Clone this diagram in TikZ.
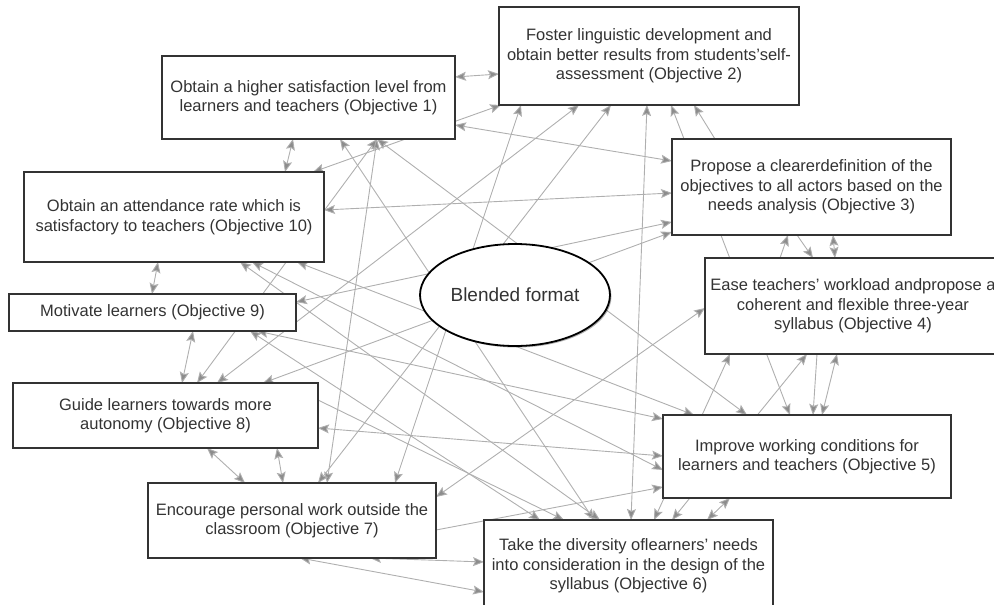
\documentclass[tikz,border=0pt]{standalone}
\usepackage{fontspec}
\setmainfont{Liberation Sans}
\usetikzlibrary{arrows.meta,backgrounds,shadows,shapes.geometric}
\definecolor{boxtext}{RGB}{51,51,51}
\definecolor{linkgray}{RGB}{175,175,175}
\tikzset{
    objbox/.style={
        draw=boxtext, line width=1.2pt, fill=white, text=boxtext,
        align=center, inner sep=0pt, outer sep=0pt,
        font=\fontsize{16.5}{19.5}\selectfont
    },
    hub/.style={
        ellipse, draw=black, line width=1.8pt, fill=white, text=boxtext,
        inner sep=0pt, outer sep=0pt,
        minimum width=190pt, minimum height=102pt,
        font=\fontsize{19}{22}\selectfont,
        drop shadow={shadow xshift=1.5pt, shadow yshift=-1.5pt, opacity=0.3, fill=black}
    },
    link/.style={
        draw=linkgray, line width=0.9pt,
        >={Stealth[length=11pt,width=9pt,inset=2pt,fill=linkgray!80!black]}
    }
}

\begin{document}
\begin{tikzpicture}[x=1pt,y=-1pt]
    \useasboundingbox (0,0) rectangle (994,605);
    % objectives
    \node[objbox, minimum width=293pt, minimum height=83pt] (o1) at (308.5,97.5)
        {Obtain a higher satisfaction level from\\learners and teachers (Objective 1)};
    \node[objbox, minimum width=300pt, minimum height=98pt] (o2) at (649,56)
        {Foster linguistic development and\\obtain better results from students'self-\\assessment (Objective 2)};
    \node[objbox, minimum width=279pt, minimum height=96pt] (o3) at (811.5,187)
        {Propose a clearerdefinition of the\\objectives to all actors based on the\\needs analysis (Objective 3)};
    \node[objbox, minimum width=296pt, minimum height=96pt] (o4) at (853,306)
        {Ease teachers' workload andpropose a\\coherent and flexible three-year\\syllabus (Objective 4)};
    \node[objbox, minimum width=288pt, minimum height=83pt] (o5) at (807,456.5)
        {Improve working conditions for\\learners and teachers (Objective 5)};
    \node[objbox, minimum width=289pt, minimum height=92pt] (o6) at (628.5,566)
        {Take the diversity oflearners' needs\\into consideration in the design of the\\syllabus (Objective 6)};
    \node[objbox, minimum width=288pt, minimum height=75pt] (o7) at (292,520.5)
        {Encourage personal work outside the\\classroom (Objective 7)};
    \node[objbox, minimum width=305pt, minimum height=65pt] (o8) at (165.5,415.5)
        {Guide learners towards more\\autonomy (Objective 8)};
    \node[objbox, minimum width=287pt, minimum height=37pt] (o9) at (152.5,312.5)
        {Motivate learners (Objective 9)};
    \node[objbox, minimum width=300pt, minimum height=90pt] (o10) at (174,217)
        {Obtain an attendance rate which is\\satisfactory to teachers (Objective 10)};
    \node[hub] (bf) at (515,295) {Blended format};

    % links, behind the boxes
    \begin{scope}[on background layer={link}]
        \draw[<->] ([yshift=-21pt]o1.north east) -- ([yshift=-67pt]o2.north west);
        \draw[<->] ([yshift=-69pt]o1.north east) -- ([yshift=-22pt]o3.north west);
        \draw[<->] ([xshift=131pt]o1.south west) -- ([xshift=261pt]o10.north west);
        \draw[<->] ([xshift=178pt]o1.south west) -- ([xshift=110pt]o6.north west);
        \draw[<->] ([xshift=215pt]o1.south west) -- ([xshift=84pt]o5.north west);
        \draw[<->] ([xshift=289pt]o10.north west) -- ([xshift=2pt]o2.south west);
        \draw[<->] ([xshift=215pt]o1.south west) -- ([xshift=179pt]o7.north west);
        \draw[<->] ([xshift=215pt]o1.south west) -- ([xshift=184pt]o8.north west);
        \draw[<->] ([yshift=-54pt]o3.north west) -- ([yshift=-38pt]o10.north east);
        \draw[<->] ([xshift=134pt]o10.south west) -- ([xshift=143pt]o9.north west);
        \draw[<->] ([xshift=273pt]o10.south west) -- ([xshift=31pt]o5.north west);
        \draw[<->] ([xshift=216pt]o10.south west) -- ([xshift=116pt]o6.north west);
        \draw[<->] ([xshift=228pt]o10.south west) -- ([yshift=-55pt]o5.north west);
        \draw[<->] ([xshift=241pt]o9.south west) -- ([xshift=56pt]o6.north west);
        \draw[<->] ([xshift=184pt]o9.south west) -- ([xshift=169pt]o8.north west);
        \draw[<->] ([xshift=248pt]o9.south west) -- ([yshift=-4pt]o5.north west);
        \draw[<->] ([yshift=-8pt]o9.north east) -- ([yshift=-83pt]o3.north west);
        \draw[<->] ([xshift=250pt]o8.north west) -- ([yshift=3pt]o3.south west);
        \draw[<->] ([yshift=-45pt]o8.north east) -- ([yshift=-41pt]o5.north west);
        \draw[->] ([yshift=-17pt]o8.north east) -- ([xshift=80pt]o6.north west);
        \draw[<->] ([xshift=204pt]o8.north west) -- ([xshift=80pt]o2.south west);
        \draw[<->] ([xshift=194pt]o8.south west) -- ([xshift=97pt]o7.north west);
        \draw[<->] ([xshift=264pt]o8.south west) -- ([xshift=135pt]o7.north west);
        \draw[<->] ([xshift=112pt]o2.south west) -- ([xshift=170pt]o7.north west);
        \draw[<->] ([xshift=22pt]o2.south west) -- ([xshift=247pt]o7.north west);
        \draw[<->] ([yshift=-14pt]o7.north east) -- ([yshift=-50pt]o4.north west);
        \draw[->] ([yshift=-47pt]o7.north east) -- ([yshift=-72pt]o5.north west);
        \draw[<->] ([xshift=222pt]o7.south west) -- ([yshift=-42pt]o6.north west);
        \draw[<->] ([xshift=152pt]o7.south west) -- ([yshift=-72pt]o6.north west);
        \draw[<->] ([xshift=148pt]o2.south west) -- ([xshift=147pt]o6.north west);
        \draw[<->] ([xshift=172pt]o2.south west) -- ([xshift=127pt]o5.north west);
        \draw[->] ([xshift=43pt]o3.north west) -- ([xshift=195pt]o2.south west);
        \draw[->] ([xshift=75pt]o4.north west) -- ([xshift=116pt]o3.south west);
        \draw[->] ([xshift=125pt]o3.south west) -- ([xshift=108pt]o4.north west);
        \draw[<->] ([xshift=161pt]o3.south west) -- ([xshift=130pt]o4.north west);
        \draw[<->] ([xshift=25pt]o4.south west) -- ([xshift=170pt]o6.north west);
        \draw[<->] ([xshift=102pt]o4.south west) -- ([xshift=188pt]o6.north west);
        \draw[->] ([xshift=112pt]o4.south west) -- ([xshift=150pt]o5.north west);
        \draw[<->] ([xshift=132pt]o4.south west) -- ([xshift=159pt]o5.north west);
        \draw[<->] ([xshift=67pt]o5.south west) -- ([xshift=223pt]o6.north west);
    \end{scope}
\end{tikzpicture}
\end{document}
